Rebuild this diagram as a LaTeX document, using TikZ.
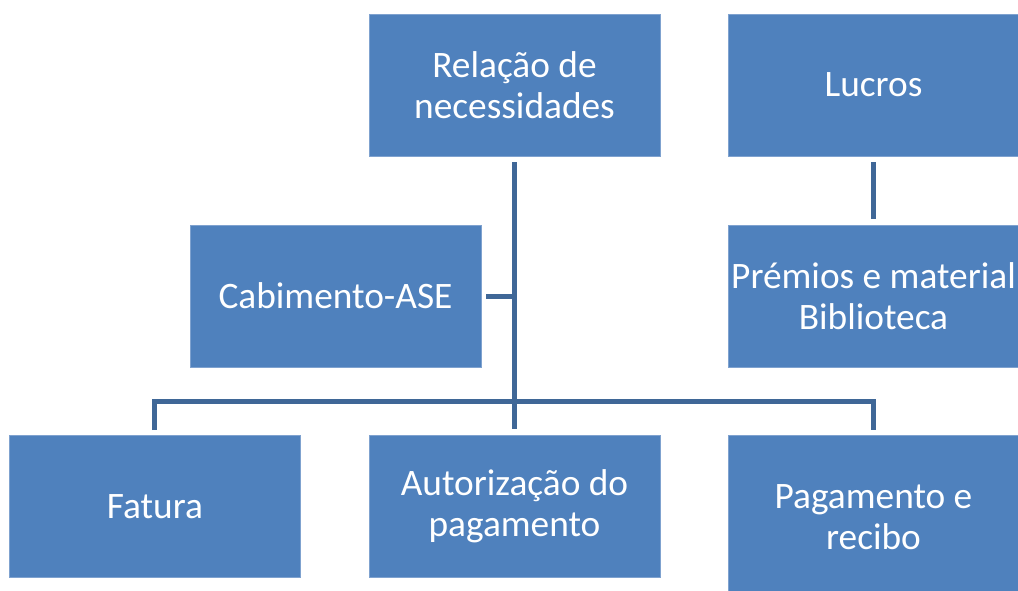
\documentclass[tikz,border=0pt]{standalone}
\usepackage{fontspec}
\setmainfont{Carlito}
\usepackage{tikz}
\usetikzlibrary{calc}
\usetikzlibrary{positioning}
\definecolor{boxblue}{HTML}{4F81BD}
\definecolor{boxedge}{HTML}{7FA2CF}
\definecolor{linkblue}{HTML}{3F6797}

\begin{document}
\begin{tikzpicture}[x=0.75pt, y=-0.75pt,
    boxnode/.style={rectangle, minimum width=218.25pt, minimum height=106.5pt, fill=boxblue,
    draw=boxedge, line width=0.4pt, text=white, align=center, inner sep=0pt,
    font=\fontsize{28}{31}\selectfont
    },
    link/.style={draw=linkblue, line width=3.75pt}
]
    \clip (0,0) rectangle (1018,590);

    \node[boxnode] (rel) at (514.5, 85) {Relação de\\necessidades};
    \node[boxnode] (lucros) at (873.5, 85) {Lucros};
    \node[boxnode] (cab) at (335.5, 296) {Cabimento-ASE};
    \node[boxnode] (premios) at (873.5, 296) {Prémios e material\\Biblioteca};
    \node[boxnode] (autor) at (514.5, 506.5) {Autorização do\\pagamento};
    \node[boxnode] (fatura) [left=51pt of autor] {Fatura};
    \node[boxnode, minimum height=123pt] (pagam) at (873.5, 517) {Pagamento e\\recibo};

    \draw[link] ($(rel.south)+(0,6)$) -- ($(autor.north)-(0,6)$);
    \draw[link] ($(fatura.north)-(0,5)$) -- ++(0,-29) -| ($(pagam.north)-(0,5)$);
    \draw[link] ($(cab.east)+(5,0)$) -- (cab.east -| rel.south);
    \draw[link] ($(lucros.south)+(0,6)$) -- ($(premios.north)-(0,6)$);
\end{tikzpicture}
\end{document}
